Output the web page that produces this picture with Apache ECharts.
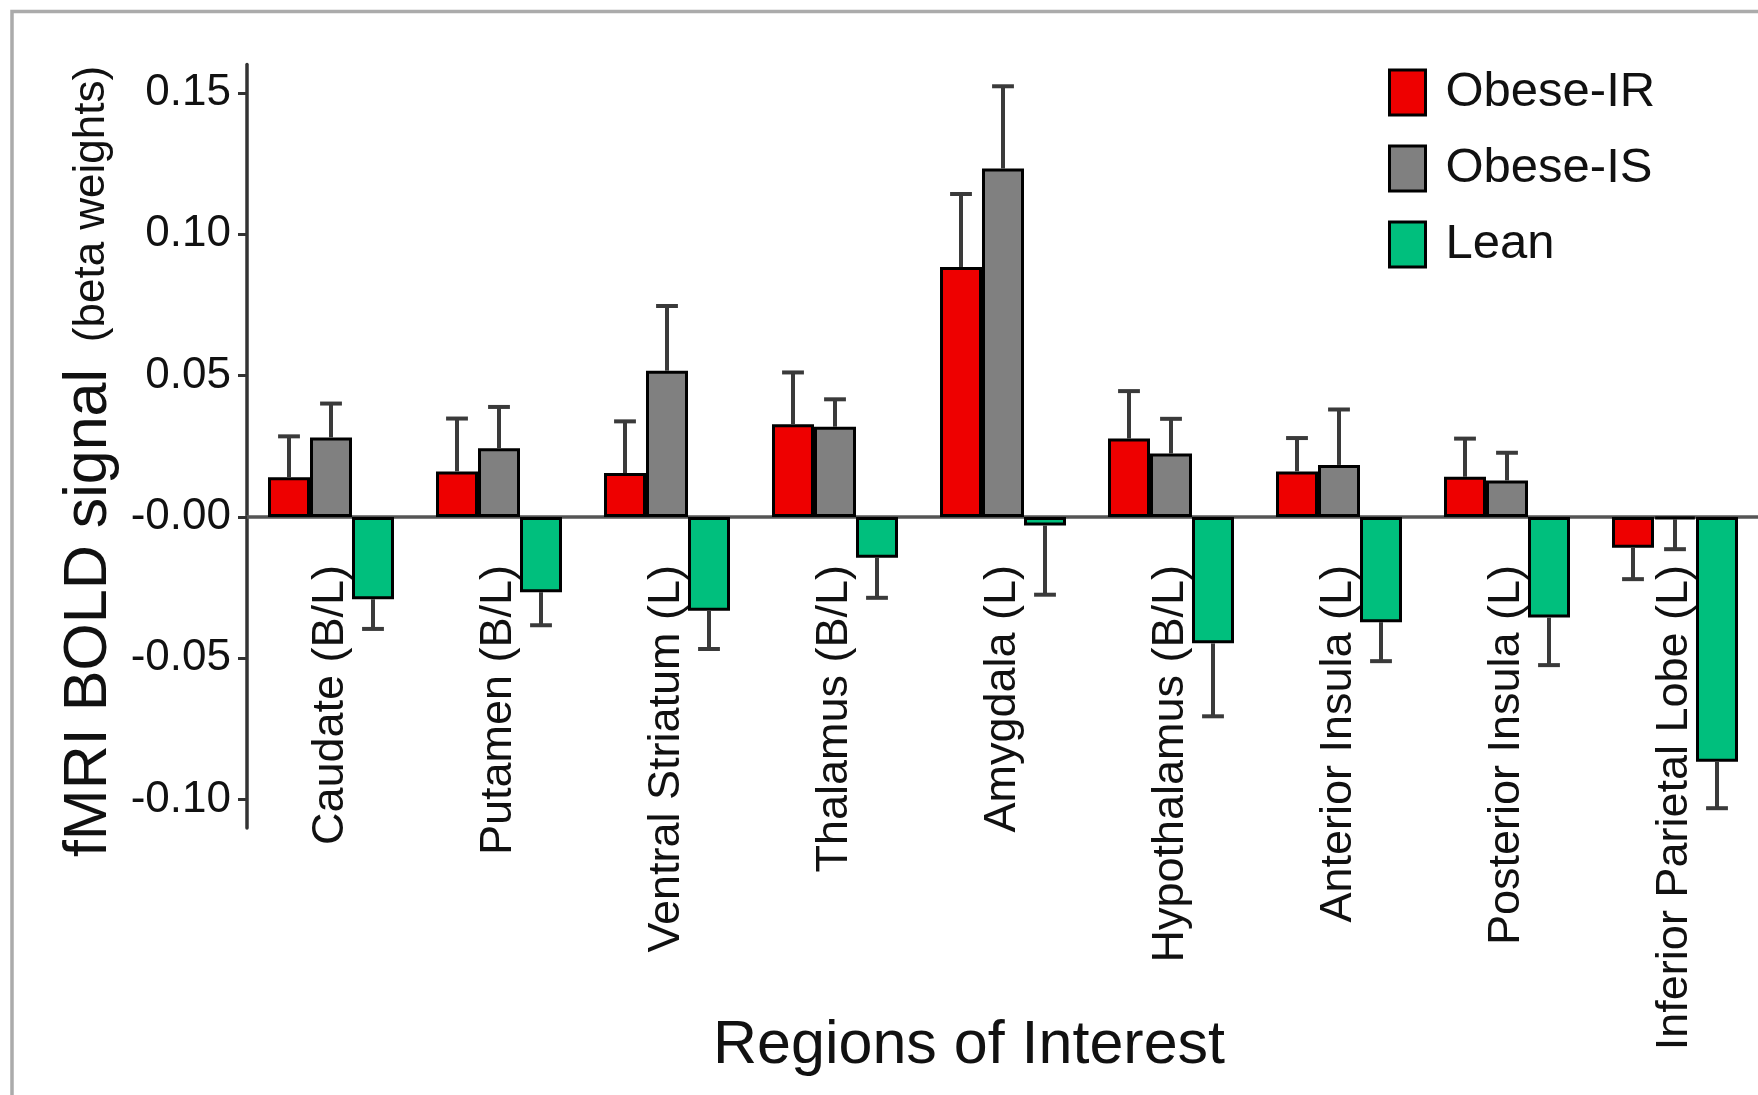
<!DOCTYPE html>
<html>
<head>
<meta charset="utf-8">
<script src="https://cdn.jsdelivr.net/npm/echarts@6/dist/echarts.min.js"></script>
<style>
  html, body { margin: 0; padding: 0; background: #fff; }
  #main { width: 1758px; height: 1095px; }
</style>
</head>
<body>
<div id="main"></div>
<script>
const categories = ['Caudate (B/L)', 'Putamen (B/L)', 'Ventral Striatum (L)', 'Thalamus (B/L)',
    'Amygdala (L)', 'Hypothalamus (B/L)', 'Anterior Insula (L)', 'Posterior Insula (L)',
    'Inferior Parietal Lobe (L)']
const seriesNames = ['Obese-IR', 'Obese-IS', 'Lean']

// mean beta weights per group
const obeseIR = [0.0140, 0.0161, 0.0155, 0.0328, 0.0884, 0.0277, 0.0161, 0.0142, -0.0109]
const obeseIS = [0.0281, 0.0243, 0.0517, 0.0319, 0.1232, 0.0224, 0.0184, 0.0129, -0.0008]
const lean = [-0.0291, -0.0266, -0.0332, -0.0144, -0.0030, -0.0447, -0.0372, -0.0356, -0.0866]

// one-sided error bars (SE)
const obeseIRse = [0.0145, 0.0187, 0.0183, 0.0183, 0.0258, 0.0168, 0.0118, 0.0135, 0.0111]
const obeseISse = [0.0120, 0.0146, 0.0229, 0.0097, 0.0291, 0.0123, 0.0196, 0.0098, 0.0106]
const leanSe = [0.0105, 0.0117, 0.0135, 0.0142, 0.0245, 0.0258, 0.0138, 0.0168, 0.0164]

const yMin = -0.11
const yMax = 0.16
const yTickValues = [-0.10, -0.05, 0, 0.05, 0.10, 0.15]
const yTickLabels = ['-0.10', '-0.05', '-0.00', '0.05', '0.10', '0.15']

const colors = ['#ee0000', '#808080', '#00bf7d']
const FONT = 'Liberation Sans, Arial, sans-serif'
const BAR_FRACTION = 0.25

const chart = echarts.init(document.getElementById('main'), null, { renderer: 'canvas' })

function errorBars(slot) {
    return function (params, api) {
        const idx = api.value(0)
        const v = api.value(1)
        const se = api.value(2)
        const end = v >= 0 ? v + se : v - se
        const bw = api.size([1, 0])[0] * BAR_FRACTION
        const base = api.coord([idx, v])
        const tip = api.coord([idx, end])
        const x = base[0] + (slot - 1) * bw
        const half = bw * 0.26
        const style = { stroke: '#3a3a3a', lineWidth: 4 }
        return {
            type: 'group',
            children: [
                { type: 'line', shape: { x1: x, y1: base[1], x2: x, y2: tip[1] }, style: style },
                { type: 'line', shape: { x1: x - half, y1: tip[1], x2: x + half, y2: tip[1] }, style: style }
            ]
        }
    }
}

const means = [obeseIR, obeseIS, lean]
const errs = [obeseIRse, obeseISse, leanSe]

const barSeries = seriesNames.map((name, k) => ({
    name: name,
    type: 'bar',
    data: means[k],
    barWidth: (BAR_FRACTION * 100) + '%',
    barGap: '0%',
    itemStyle: { color: colors[k], borderColor: '#000', borderWidth: 3 },
    z: 2
}))

const errSeries = seriesNames.map((name, k) => ({
    name: name + ' SE',
    type: 'custom',
    renderItem: errorBars(k),
    data: categories.map((c, i) => [i, means[k][i], errs[k][i]]),
    encode: { x: 0, y: 1 },
    z: 3,
    silent: true
}))

const option = {
    backgroundColor: '#fff',
    animation: false,
    grid: { left: 247, top: 64.5, width: 1512, height: 763.5, containLabel: false, outerBoundsMode: 'none' },
    legend: {
        data: seriesNames,
        orient: 'vertical',
        left: 1388,
        top: 68,
        padding: 0,
        itemWidth: 36,
        itemHeight: 45,
        itemGap: 27,
        icon: 'rect',
        itemStyle: { borderColor: '#000', borderWidth: 3 },
        textStyle: { fontFamily: FONT, fontSize: 49, color: '#111', lineHeight: 47, padding: [0, 0, 0, 15] }
    },
    xAxis: {
        type: 'category',
        data: categories,
        axisLine: { onZero: false, lineStyle: { color: '#555', width: 3.5 } },
        axisTick: { alignWithLabel: true, length: 9, lineStyle: { color: '#555', width: 3 } },
        axisLabel: { interval: 0, rotate: 90, margin: 48, fontFamily: FONT, fontSize: 45, color: '#111' },
        splitLine: { show: false }
    },
    yAxis: {
        type: 'value',
        min: yMin,
        max: yMax,
        axisLine: { show: true, onZero: false, lineStyle: { color: '#333', width: 3.5 } },
        axisTick: { show: true, length: 9, customValues: yTickValues, lineStyle: { color: '#333', width: 3 } },
        axisLabel: {
            customValues: yTickValues,
            margin: 16,
            fontFamily: FONT,
            fontSize: 44,
            color: '#111',
            formatter: function (val) {
                const i = yTickValues.findIndex(t => Math.abs(t - val) < 1e-9)
                return i >= 0 ? yTickLabels[i] : ''
            }
        },
        splitLine: { show: false }
    },
    graphic: [
        {
            type: 'rect',
            shape: { x: 12, y: 11.5, width: 1900, height: 1300 },
            style: { fill: 'none', stroke: '#ababab', lineWidth: 3.5 },
            silent: true,
            z: -10
        },
        {
            type: 'text',
            x: 89,
            y: 613,
            rotation: Math.PI / 2,
            style: { text: 'fMRI BOLD signal', font: '61px ' + FONT, fill: '#111', align: 'center', verticalAlign: 'middle' }
        },
        {
            type: 'text',
            x: 92,
            y: 204,
            rotation: Math.PI / 2,
            style: { text: '(beta weights)', font: '44px ' + FONT, fill: '#111', align: 'center', verticalAlign: 'middle' }
        },
        {
            type: 'text',
            x: 969,
            y: 1046,
            style: { text: 'Regions of Interest', font: '61px ' + FONT, fill: '#111', align: 'center', verticalAlign: 'middle' }
        }
    ],
    series: barSeries.concat(errSeries)
}

chart.setOption(option)

// move the whole category axis (line, ticks, labels) up to y = 0
const zeroY = chart.convertToPixel({ yAxisIndex: 0 }, 0)
const bottomY = chart.convertToPixel({ yAxisIndex: 0 }, yMin)
chart.setOption({ xAxis: { offset: -(bottomY - zeroY) } })
</script>
</body>
</html>
